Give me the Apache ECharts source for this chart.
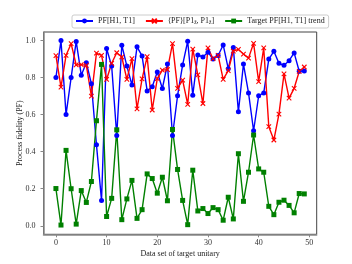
<!DOCTYPE html>
<html><head><meta charset="utf-8">
<script src="https://cdn.jsdelivr.net/npm/echarts@6/dist/echarts.min.js"></script>
<style>html,body{margin:0;padding:0;background:#fff}#c{width:352px;height:264px}</style>
</head><body><div id="c"></div>
<script>
const seriesNames = ['PF[H1, T1]', '⟨PF⟩[P1ẑ, P1ẑ]', 'Target PF[H1, T1] trend'];
const xTicks = [0, 10, 20, 30, 40, 50];
const yTicks = [0.0, 0.2, 0.4, 0.6, 0.8, 1.0];
const pfH1T1 = [0.80, 1.00, 0.60, 0.80, 0.995, 0.813, 0.88, 0.767, 0.437, 0.136,
  0.957, 0.862, 0.487, 0.975, 0.862, 0.76, 0.966, 0.917, 0.728, 0.75,
  0.83, 0.741, 0.873, 0.487, 0.702, 0.868, 0.996, 0.705, 0.922, 0.911,
  0.937, 0.90, 0.919, 0.976, 0.848, 0.963, 0.615, 0.873, 0.717, 0.513,
  0.702, 0.717, 0.90, 0.942, 0.877, 0.866, 0.891, 0.933, 0.834, 0.836];
const pfP1z = [0.918, 0.748, 0.92, 0.983, 0.868, 0.87, 0.866, 0.70, 0.932, 0.92,
  0.79, 0.877, 0.934, 0.911, 0.79, 0.902, 0.631, 0.793, 0.913, 0.625,
  0.794, 0.84, 0.843, 0.983, 0.742, 0.786, 0.655, 0.954, 0.814, 0.66,
  0.96, 0.902, 0.92, 0.79, 0.838, 0.943, 0.952, 0.927, 0.905, 0.985,
  0.778, 0.96, 0.535, 0.463, 0.603, 0.82, 0.689, 0.742, 0.833, 0.857];
const targetTrend = [0.201, 0.004, 0.407, 0.20, 0.009, 0.19, 0.126, 0.239, 0.567, 0.871,
  0.05, 0.148, 0.518, 0.033, 0.145, 0.245, 0.04, 0.087, 0.28, 0.255,
  0.176, 0.262, 0.135, 0.52, 0.304, 0.137, 0.006, 0.30, 0.08, 0.093,
  0.066, 0.098, 0.087, 0.03, 0.154, 0.037, 0.389, 0.132, 0.289, 0.49,
  0.307, 0.289, 0.105, 0.06, 0.127, 0.138, 0.11, 0.07, 0.174, 0.172];

const toPairs = arr => arr.map((v, i) => [i, v]);
const font = 'Liberation Serif, DejaVu Serif, serif';
const chart = echarts.init(document.getElementById('c'), null, {renderer: 'canvas'});
const xPath = 'path://M0,0L10,10M0,10L10,0';
chart.setOption({
  animation: false,
  backgroundColor: '#fff',
  grid: {left: 43.5, right: 35.3, top: 32, bottom: 29.7, show: true, borderColor: '#444', borderWidth: 1, backgroundColor: 'transparent'},
  legend: {
    left: 72, top: 15, padding: [2, 4, 2, 3], itemGap: 10, itemWidth: 17, itemHeight: 6,
    borderColor: '#ccc', borderWidth: 1, borderRadius: 2, backgroundColor: '#fff',
    textStyle: {fontFamily: font, fontSize: 8, color: '#222',
      rich: {sub: {fontFamily: font, fontSize: 5.5, padding: [4, 0, 0, 0], color: '#222'}}},
    formatter: function (name) {
      if (name === seriesNames[1]) return '⟨PF⟩[P1{sub|ẑ}, P1{sub|ẑ}]';
      return name;
    },
    data: seriesNames
  },
  xAxis: {
    type: 'value', min: -2.45, max: 51.45,
    name: 'Data set of target unitary', nameLocation: 'middle', nameGap: 16, nameMoveOverlap: false,
    nameTextStyle: {fontFamily: font, fontSize: 8, color: '#222'},
    axisLine: {show: true, onZero: false, lineStyle: {color: '#888', width: 1.5}},
    axisTick: {show: true, length: 3, customValues: xTicks, lineStyle: {color: '#888'}},
    axisLabel: {customValues: xTicks, fontFamily: font, fontSize: 8, color: '#333', margin: 5},
    splitLine: {show: false}
  },
  yAxis: {
    type: 'value', min: -0.046, max: 1.046,
    name: 'Process fidelity (PF)', nameLocation: 'middle', nameGap: 20, nameRotate: 90, nameMoveOverlap: false,
    nameTextStyle: {fontFamily: font, fontSize: 8, color: '#222'},
    axisLine: {show: true, onZero: false, lineStyle: {color: '#888', width: 1.5}},
    axisTick: {show: true, length: 3, customValues: yTicks, lineStyle: {color: '#888'}},
    axisLabel: {customValues: yTicks, fontFamily: font, fontSize: 8, color: '#333', margin: 8,
      formatter: v => v.toFixed(1)},
    splitLine: {show: false}
  },
  series: [
    {name: seriesNames[0], type: 'line', data: toPairs(pfH1T1), symbol: 'circle', symbolSize: 5, showAllSymbol: true,
      lineStyle: {color: '#0000ff', width: 1.4}, itemStyle: {color: '#0000ff'}},
    {name: seriesNames[1], type: 'line', data: toPairs(pfP1z), symbol: xPath, symbolSize: 4.5, showAllSymbol: true,
      lineStyle: {color: '#ff0000', width: 1.4}, itemStyle: {color: '#ff0000', borderColor: '#ff0000', borderWidth: 1.1}},
    {name: seriesNames[2], type: 'line', data: toPairs(targetTrend), symbol: 'rect', symbolSize: 5, showAllSymbol: true,
      lineStyle: {color: '#008000', width: 1.4}, itemStyle: {color: '#008000'}}
  ]
});
</script></body></html>
